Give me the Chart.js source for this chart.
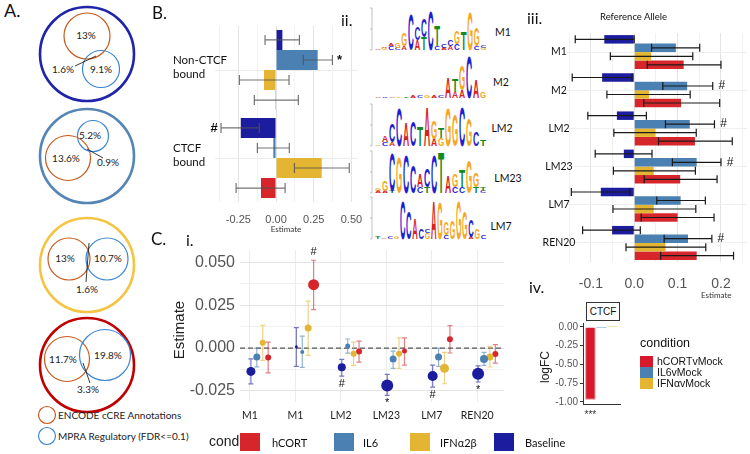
<!DOCTYPE html>
<html>
<head>
<meta charset="utf-8">
<title>Motif MPRA figure</title>
<script src="https://cdn.jsdelivr.net/npm/chart.js@4.4.0/dist/chart.umd.min.js"></script>
<style>
  body { margin: 0; background: #fff; font-family: Lato, 'Open Sans', sans-serif; }
  #fig { position: relative; width: 750px; height: 454px; overflow: hidden; }
  .abs { position: absolute; white-space: nowrap; line-height: 1; color: #111; }
  canvas { position: absolute; }
  .sq { position: absolute; }
</style>
</head>
<body>
<div id="fig">
  <svg id="venn" class="abs" style="left:0;top:0" width="210" height="454"></svg>
  <svg id="logos" class="abs" style="left:360px;top:0" width="170" height="245"></svg>

  <canvas id="ctcfChart" width="215" height="240" style="left:150px;top:0"></canvas>
  <canvas id="refChart" width="270" height="310" style="left:480px;top:0"></canvas>
  <canvas id="altChart" width="360" height="190" style="left:150px;top:240px"></canvas>
  <canvas id="fcChart" width="110" height="125" style="left:520px;top:300px"></canvas>

  <div class="abs" style="left:4px;top:1px;font-size:18px">A.</div>
  <div class="abs" style="left:152px;top:4px;font-size:17px">B.</div>
  <div class="abs" style="left:151px;top:230px;font-size:17px">C.</div>
  <div class="abs" style="left:186px;top:232px;font-size:16px">i.</div>
  <div class="abs" style="left:341px;top:12px;font-size:16px">ii.</div>
  <div class="abs" style="left:527px;top:10px;font-size:16px">iii.</div>
  <div class="abs" style="left:529px;top:279px;font-size:16px">iv.</div>

  <div class="abs" style="left:600px;top:12px;font-size:9.5px">Reference Allele</div>
  <div class="abs" style="left:286px;top:225px;font-size:8px;color:#333;transform:translateX(-50%)">Estimate</div>
  <div class="abs" style="left:701px;top:291px;font-size:8px;color:#333">Estimate</div>
  <div class="abs" style="left:178px;top:330px;font-size:15px;color:#222;font-family:'Liberation Sans';transform:translate(-50%,-50%) rotate(-90deg)">Estimate</div>
  <div class="abs" style="left:545px;top:367px;font-size:12px;color:#222;font-family:'Liberation Sans';transform:translate(-50%,-50%) rotate(-90deg)">logFC</div>

  <div class="abs" style="left:586px;top:302px;width:32px;height:17px;border:1.5px solid #333;font-size:10px;font-family:'Liberation Sans';text-align:center;line-height:17px;background:#fff">CTCF</div>

  <div id="fcLegend"></div>
  <div id="condLegend"></div>
</div>

<script>
// ---- colours ----
const condColors = ['#1c1c9e', '#4a80b2', '#e3b532', '#d6262b']; // Baseline, IL6, IFN, hCORT

// ---- A. venn percentages ----
const vennRing = ['#1f24a8', '#5585b5', '#f4c542', '#c00000'];
const vennEncode = ['13%', '13.6%', '13%', '11.7%'];
const vennMpra = ['9.1%', '5.2%', '10.7%', '19.8%'];
const vennBoth = ['1.6%', '0.9%', '1.6%', '3.3%'];

// ---- B.i CTCF bound / non-bound ----
const ctcfGroups = [['Non-CTCF', 'bound'], ['CTCF', 'bound']];
const ctcfBaseline = [0.042, -0.234];
const ctcfBaseLo = [-0.073, -0.365];
const ctcfBaseHi = [0.155, -0.111];
const ctcfIL6 = [0.276, -0.018];
const ctcfIL6Lo = [0.181, -0.124];
const ctcfIL6Hi = [0.374, 0.088];
const ctcfIFN = [-0.080, 0.303];
const ctcfIFNLo = [-0.243, 0.122];
const ctcfIFNHi = [0.086, 0.486];
const ctcfHCORT = [-0.005, -0.100];
const ctcfHCORTLo = [-0.144, -0.265];
const ctcfHCORTHi = [0.148, 0.060];
const ctcfBaseSig = ['', '#'];
const ctcfIL6Sig = ['*', ''];

// ---- B.ii logos (letter + bits, bottom to top) ----
const logoNames = ['M1', 'M2', 'LM2', 'LM23', 'LM7'];
const logoM1 = ['A.05', 'G.1 A.05', 'C.2 A.1', 'C.1 G.25', 'A.2 G.6', 'C1.7', 'A.5 C.6', 'T.6 C.9', 'C1.9', 'C.2 T1.0', 'A.1 C.2', 'A.2 C.3', 'C.3 G.6', 'T.9', 'G1.8', 'C.2 G.9', 'G.1 C.1'];
const logoM2 = ['A.05', 'C.05', 'A.05', 'G.05', 'T.05', 'A.1', 'C.1', 'G.15', 'A.1', 'C.15', 'A1.0', 'A.3 T.6', 'A.4 G1.2', 'C2.0', 'A.9', 'G.3'];
const logoLM2 = ['G.05', 'C.2 A.3', 'A.2 C.9', 'C1.8', 'A1.15', 'C1.2', 'T.95', 'A1.9', 'A.35 G.9', 'G.4 T.5', 'G1.8', 'G1.5', 'C1.9', 'G1.3', 'C.7', 'T.3'];
const logoLM23 = ['A.1 G.1', 'A.1 G.5', 'T.1 C1.8', 'G1.7', 'C1.8', 'C1.3', 'C.3 A.6', 'T.3 C.9', 'C1.8', 'T1.95', 'A.8', 'C.3 G.6', 'C.3 T.8', 'G1.6', 'T.3 G.7', 'C.1 T.2'];
const logoLM7 = ['T.1', 'A.05', 'C.1', 'G.15', 'C1.8', 'C1.3', 'A1.0', 'C.5', 'G.3 C.2', 'A1.8', 'G1.75', 'C.2 G.6', 'G.9', 'G1.8', 'G1.3', 'A.1 C.8', 'G.5', 'C.2'];

// ---- B.iii reference allele ----
const motifs = ['M1', 'M2', 'LM2', 'LM23', 'LM7', 'REN20'];
const refBaseline = [-0.069, -0.074, -0.040, -0.024, -0.077, -0.051];
const refBaseLo = [-0.136, -0.143, -0.107, -0.090, -0.145, -0.119];
const refBaseHi = [0.000, -0.005, 0.028, 0.041, -0.010, 0.014];
const refIL6 = [0.096, 0.122, 0.128, 0.144, 0.107, 0.124];
const refIL6Lo = [0.040, 0.066, 0.072, 0.088, 0.052, 0.069];
const refIL6Hi = [0.151, 0.181, 0.185, 0.200, 0.164, 0.179];
const refIFN = [0.039, 0.034, 0.049, 0.045, 0.045, 0.072];
const refIFNLo = [-0.055, -0.063, -0.047, -0.048, -0.049, -0.019];
const refIFNHi = [0.135, 0.129, 0.143, 0.141, 0.142, 0.165];
const refHCORT = [0.114, 0.108, 0.140, 0.106, 0.100, 0.144];
const refHCORTLo = [0.030, 0.022, 0.056, 0.023, 0.016, 0.061];
const refHCORTHi = [0.200, 0.197, 0.226, 0.191, 0.184, 0.229];
const refIL6Sig = ['', '#', '#', '#', '', '#'];

// ---- C.i alternate allele ----
const altMotifs = ['M1', 'M1', 'LM2', 'LM23', 'LM7', 'REN20'];
const altBaseline = [-0.0137, 0.0008, -0.0113, -0.0219, -0.0164, -0.0150];
const altBaseLo = [-0.0210, -0.0107, -0.0164, -0.0277, -0.0229, -0.0199];
const altBaseHi = [-0.0063, 0.0120, -0.0066, -0.0154, -0.0100, -0.0105];
const altBaseSize = [4.5, 1.5, 4, 6, 5, 6];
const altBaseSig = ['', '', '#', '*', '#', '*'];
const altIL6 = [-0.0053, -0.0023, 0.0012, -0.0064, -0.0053, -0.0064];
const altIL6Lo = [-0.0110, -0.0113, -0.0030, -0.0119, -0.0107, -0.0102];
const altIL6Hi = [0.0000, 0.0070, 0.0053, -0.0018, 0.0000, -0.0025];
const altIL6Size = [3.5, 2, 2.5, 3.5, 3.5, 4];
const altIFN = [0.0031, 0.0117, -0.0033, -0.0033, -0.0119, -0.0053];
const altIFNLo = [-0.0072, -0.0043, -0.0102, -0.0119, -0.0209, -0.0111];
const altIFNHi = [0.0133, 0.0275, 0.0035, 0.0059, -0.0025, 0.0008];
const altIFNSize = [3, 3.5, 3, 3, 4.5, 3.5];
const altHCORT = [-0.0055, 0.0371, -0.0020, -0.0018, 0.0051, -0.0035];
const altHCORTLo = [-0.0145, 0.0225, -0.0082, -0.0100, -0.0029, -0.0088];
const altHCORTHi = [0.0035, 0.0514, 0.0041, 0.0060, 0.0131, 0.0020];
const altHCORTSize = [3, 5.5, 3, 2.5, 3, 3];
const altHCORTSig = ['', '#', '', '', '', ''];

// ---- C.iv logFC ----
const fcLabels = ['CTCF'];
const fcHCORT = [-0.97];
const fcIL6 = [-0.012];
const fcIFN = [0.012];
const fcSig = ['***'];
const fcNames = ['hCORTvMock', 'IL6vMock', 'IFN\u03b1vMock'];

const condNames = ['hCORT', 'IL6', 'IFN\u03b12\u03b2', 'Baseline'];

// ================= drawing =================
Chart.defaults.animation = false;
Chart.defaults.responsive = false;
Chart.defaults.font.family = "'Liberation Sans', Arial, sans-serif";
Chart.defaults.plugins.legend.display = false;
Chart.defaults.plugins.tooltip.enabled = false;

const isStep = (v, s) => Math.abs(v / s - Math.round(v / s)) < 1e-6;
const alpha = (hex, a) => {
  const n = parseInt(hex.slice(1), 16);
  return `rgba(${n >> 16},${(n >> 8) & 255},${n & 255},${a})`;
};
// fixed axis box sizes, no extra room for overhanging tick labels
const fixH = h => s => { s.height = h; s.paddingLeft = 0; s.paddingRight = 0; };
const fixW = w => s => { s.width = w; s.paddingTop = 0; s.paddingBottom = 0; };

function drawErrorBars(chart, o) {
  const ctx = chart.ctx;
  const horiz = chart.options.indexAxis === 'y';
  const vScale = horiz ? chart.scales.x : chart.scales.y;
  chart.data.datasets.forEach((ds, di) => {
    if (!ds.errLo) return;
    chart.getDatasetMeta(di).data.forEach((el, i) => {
      const a = vScale.getPixelForValue(ds.errLo[i]);
      const b = vScale.getPixelForValue(ds.errHi[i]);
      const c = horiz ? el.y : el.x;
      ctx.save();
      ctx.strokeStyle = ds.errColor || o.color;
      ctx.lineWidth = o.width;
      ctx.beginPath();
      if (horiz) {
        ctx.moveTo(a, c); ctx.lineTo(b, c);
        ctx.moveTo(a, c - o.cap); ctx.lineTo(a, c + o.cap);
        ctx.moveTo(b, c - o.cap); ctx.lineTo(b, c + o.cap);
      } else {
        ctx.moveTo(c, a); ctx.lineTo(c, b);
        ctx.moveTo(c - o.cap, a); ctx.lineTo(c + o.cap, a);
        ctx.moveTo(c - o.cap, b); ctx.lineTo(c + o.cap, b);
      }
      ctx.stroke();
      const s = ds.sig && ds.sig[i];
      if (s) {
        ctx.fillStyle = '#111';
        ctx.font = o.sigFont;
        ctx.textAlign = 'center';
        ctx.textBaseline = 'middle';
        const lo = ds.sigAt === 'lo';
        const end = lo ? a : b;
        if (horiz) ctx.fillText(s, end + (lo ? -o.sigGap : o.sigGap), c);
        else ctx.fillText(s, c, end + (lo ? o.sigGap : -o.sigGap));
      }
      ctx.restore();
    });
  });
}

const errorBars = {
  id: 'errorBars',
  beforeDatasetsDraw(chart, args, o) { if (o.under) drawErrorBars(chart, o); },
  afterDatasetsDraw(chart, args, o) { if (!o.under) drawErrorBars(chart, o); }
};

// category names drawn by hand so they are not clipped to the axis box
const catLabels = {
  id: 'catLabels',
  afterDraw(chart, args, o) {
    const ctx = chart.ctx, ys = chart.scales.y;
    ctx.save();
    ctx.font = o.font;
    ctx.fillStyle = '#111';
    ctx.textAlign = o.align;
    ctx.textBaseline = 'middle';
    chart.data.labels.forEach((lab, i) => {
      const y = ys.getPixelForValue(i) + o.dy;
      const lines = Array.isArray(lab) ? lab : [lab];
      lines.forEach((t, k) => ctx.fillText(t, o.x, y + (k - (lines.length - 1) / 2) * o.lineH));
    });
    ctx.restore();
  }
};

const zeroLine = {
  id: 'zeroLine',
  beforeDatasetsDraw(chart) {
    const { ctx, chartArea } = chart;
    const y = chart.scales.y.getPixelForValue(0);
    ctx.save();
    ctx.strokeStyle = '#555';
    ctx.lineWidth = 1.3;
    ctx.setLineDash([5, 3]);
    ctx.beginPath();
    ctx.moveTo(chartArea.left, y);
    ctx.lineTo(chartArea.right, y);
    ctx.stroke();
    ctx.restore();
  }
};

const barNote = {
  id: 'barNote',
  afterDraw(chart, args, o) {
    const el = chart.getDatasetMeta(0).data[0];
    const ctx = chart.ctx;
    ctx.save();
    ctx.fillStyle = '#333';
    ctx.font = "10px 'Liberation Sans'";
    ctx.textAlign = 'center';
    ctx.textBaseline = 'middle';
    ctx.fillText(o.text, el.x, chart.chartArea.bottom + 11);
    ctx.restore();
  }
};

const gridColor = step => c => (c.tick && isStep(c.tick.value, step)) ? '#e4e4e4' : '#f1f1f1';

// ---- B.i ----
new Chart(document.getElementById('ctcfChart'), {
  type: 'bar',
  data: {
    labels: ctcfGroups,
    datasets: [
      { data: ctcfBaseline, backgroundColor: condColors[0], errLo: ctcfBaseLo, errHi: ctcfBaseHi, sig: ctcfBaseSig, sigAt: 'lo' },
      { data: ctcfIL6, backgroundColor: condColors[1], errLo: ctcfIL6Lo, errHi: ctcfIL6Hi, sig: ctcfIL6Sig, sigAt: 'hi' },
      { data: ctcfIFN, backgroundColor: condColors[2], errLo: ctcfIFNLo, errHi: ctcfIFNHi },
      { data: ctcfHCORT, backgroundColor: condColors[3], errLo: ctcfHCORTLo, errHi: ctcfHCORTHi }
    ]
  },
  options: {
    indexAxis: 'y',
    layout: { padding: { left: 23, top: 26, right: 8, bottom: 0 } },
    datasets: { bar: { categoryPercentage: 0.91, barPercentage: 1 } },
    scales: {
      x: {
        min: -0.405, max: 0.537,
        ticks: { stepSize: 0.125, includeBounds: false, autoSkip: false, maxRotation: 0, padding: 11, color: '#555', font: { size: 11 },
          callback: v => isStep(v, 0.25) ? (Math.abs(v) < 1e-9 ? '0.00' : v.toFixed(2)) : '' },
        grid: { color: gridColor(0.25), drawTicks: false },
        border: { display: false },
        afterFit: fixH(38)
      },
      y: {
        ticks: { display: false },
        grid: { offset: false, color: '#ececec', drawTicks: false },
        border: { display: false },
        afterFit: fixW(42)
      }
    },
    plugins: {
      errorBars: { color: 'rgba(80,80,80,0.8)', width: 1.2, cap: 5, sigGap: 7, sigFont: "bold 13px 'Liberation Sans'" },
      catLabels: { x: 23, align: 'left', dy: -3, lineH: 14, font: "11.5px Lato" }
    }
  },
  plugins: [errorBars, catLabels]
});

// ---- B.iii ----
new Chart(document.getElementById('refChart'), {
  type: 'bar',
  data: {
    labels: motifs,
    datasets: [
      { data: refBaseline, backgroundColor: condColors[0], errLo: refBaseLo, errHi: refBaseHi },
      { data: refIL6, backgroundColor: condColors[1], errLo: refIL6Lo, errHi: refIL6Hi, sig: refIL6Sig, sigAt: 'hi' },
      { data: refIFN, backgroundColor: condColors[2], errLo: refIFNLo, errHi: refIFNHi },
      { data: refHCORT, backgroundColor: condColors[3], errLo: refHCORTLo, errHi: refHCORTHi }
    ]
  },
  options: {
    indexAxis: 'y',
    layout: { padding: { left: 0, top: 33, right: 3, bottom: 0 } },
    datasets: { bar: { categoryPercentage: 0.89, barPercentage: 1 } },
    scales: {
      x: {
        min: -0.155, max: 0.26,
        ticks: { stepSize: 0.05, includeBounds: false, autoSkip: false, maxRotation: 0, padding: 14, color: '#555', font: { size: 14 },
          callback: v => isStep(v, 0.1) ? (Math.abs(v) < 1e-9 ? '0.0' : v.toFixed(1)) : '' },
        grid: { color: gridColor(0.1), drawTicks: false },
        border: { display: false },
        afterFit: fixH(48)
      },
      y: {
        ticks: { display: false },
        grid: { offset: false, color: '#efefef', drawTicks: false },
        border: { display: false },
        afterFit: fixW(87)
      }
    },
    plugins: {
      errorBars: { color: '#1a1a1a', width: 1.2, cap: 4, sigGap: 9, sigFont: "12px 'Liberation Sans'" },
      catLabels: { x: 79, align: 'center', dy: 0, lineH: 12, font: "10.5px Lato" }
    }
  },
  plugins: [errorBars, catLabels]
});

// ---- C.i ----
const dodge = [0.02, 0.15, 0.28, 0.40];
const altPts = (vals, k) => vals.map((v, i) => ({ x: i + dodge[k], y: v }));
new Chart(document.getElementById('altChart'), {
  type: 'scatter',
  data: {
    datasets: [
      { data: altPts(altBaseline, 0), pointRadius: altBaseSize, backgroundColor: condColors[0], errLo: altBaseLo, errHi: altBaseHi, errColor: alpha(condColors[0], 0.6), sig: altBaseSig, sigAt: 'lo' },
      { data: altPts(altIL6, 1), pointRadius: altIL6Size, backgroundColor: condColors[1], errLo: altIL6Lo, errHi: altIL6Hi, errColor: alpha(condColors[1], 0.6) },
      { data: altPts(altIFN, 2), pointRadius: altIFNSize, backgroundColor: condColors[2], errLo: altIFNLo, errHi: altIFNHi, errColor: alpha(condColors[2], 0.6) },
      { data: altPts(altHCORT, 3), pointRadius: altHCORTSize, backgroundColor: condColors[3], errLo: altHCORTLo, errHi: altHCORTHi, errColor: alpha(condColors[3], 0.6), sig: altHCORTSig, sigAt: 'hi' }
    ]
  },
  options: {
    layout: { padding: { left: 0, top: 10, right: 5, bottom: 0 } },
    elements: { point: { borderWidth: 0 } },
    scales: {
      x: {
        type: 'linear', min: -0.22, max: 5.59,
        ticks: { stepSize: 1, includeBounds: false, autoSkip: false, maxRotation: 0, padding: 7, color: '#222', font: { family: 'Lato', size: 10.5 },
          callback: v => altMotifs[v] || '' },
        grid: { color: '#ececec', drawTicks: false },
        border: { display: false },
        afterFit: fixH(28)
      },
      y: {
        min: -0.0316, max: 0.0574,
        ticks: { stepSize: 0.0125, includeBounds: false, autoSkip: false, padding: 5, color: '#555', font: { size: 16 },
          callback: v => isStep(v, 0.025) ? (Math.abs(v) < 1e-9 ? '0.000' : v.toFixed(3)) : '' },
        grid: { color: gridColor(0.025), drawTicks: false },
        border: { display: false },
        afterFit: fixW(90)
      }
    },
    plugins: { errorBars: { under: true, width: 1.2, cap: 2.5, sigGap: 8, sigFont: "11px 'Liberation Sans'" } }
  },
  plugins: [zeroLine, errorBars]
});

// ---- C.iv ----
new Chart(document.getElementById('fcChart'), {
  type: 'bar',
  data: {
    labels: fcLabels,
    datasets: [
      { data: fcHCORT, backgroundColor: '#d8182b', borderColor: '#ee8a92', borderWidth: 1 },
      { data: fcIL6, backgroundColor: condColors[1] },
      { data: fcIFN, backgroundColor: condColors[2] }
    ]
  },
  options: {
    layout: { padding: { left: 0, top: 23, right: 10, bottom: 0 } },
    datasets: { bar: { categoryPercentage: 0.9, barPercentage: 0.95 } },
    scales: {
      x: {
        ticks: { display: false },
        grid: { display: false },
        border: { display: true, color: '#333', width: 1 },
        afterFit: fixH(21)
      },
      y: {
        min: -1.027, max: 0.053,
        ticks: { stepSize: 0.25, includeBounds: false, autoSkip: false, padding: 2, color: '#555', font: { size: 10 },
          callback: v => (Math.abs(v) < 1e-9 ? '0.00' : v.toFixed(2)) },
        grid: { drawOnChartArea: false, tickLength: 3, color: '#333' },
        border: { display: true, color: '#333', width: 1 },
        afterFit: fixW(63)
      }
    },
    plugins: { barNote: { text: fcSig[0] } }
  },
  plugins: [barNote]
});

// ---- legends ----
const fcLeg = document.getElementById('fcLegend');
fcLeg.innerHTML = `<div class="abs" style="left:640px;top:337px;font-size:12.5px;font-family:'Liberation Sans'">condition</div>` +
  fcNames.map((n, i) =>
    `<div class="sq" style="left:640px;top:${356 + i * 11}px;width:13px;height:11px;background:${['#d8182b', condColors[1], condColors[2]][i]}"></div>` +
    `<div class="abs" style="left:657px;top:${356 + i * 11}px;font-size:10.5px;font-family:'Liberation Sans'">${n}</div>`).join('');

const legendOrder = [3, 1, 2, 0];
const legSq = [240, 334, 410, 494];
const legTx = [272, 363, 440, 525];
const condLeg = document.getElementById('condLegend');
condLeg.innerHTML = `<div class="abs" style="left:209px;top:434px;font-size:14px;font-family:'Liberation Sans';color:#222">cond</div>` +
  condNames.map((n, i) =>
    `<div class="sq" style="left:${legSq[i]}px;top:433px;width:20px;height:18px;background:${condColors[legendOrder[i]]}"></div>` +
    `<div class="abs" style="left:${legTx[i]}px;top:437px;font-size:11px">${n}</div>`).join('');

// ---- A. venn (svg) ----
const NS = 'http://www.w3.org/2000/svg';
function mk(parent, tag, attrs, text) {
  const e = document.createElementNS(NS, tag);
  for (const k in attrs) e.setAttribute(k, attrs[k]);
  if (text) e.textContent = text;
  parent.appendChild(e);
  return e;
}
const venn = document.getElementById('venn');
const encColor = '#c9581c', mpraColor = '#3b86d2';
const vennCx = 87, vennCy = [54, 156, 265, 365], vennR = 47;
const encCircle = [[0, -18, 23], [-19, 2, 22.5], [-18, -6, 21], [-20, -6, 22.5]];
const mpraCircle = [[14, 15, 18.5], [6, -20, 15.5], [20, -6, 21], [18, -10, 25.5]];
const encText = [[-1, -19], [-21, 2], [-22, -7], [-24, -6]];
const mpraText = [[14, 15], [3, -21], [21, -7], [21, -10]];
const bothText = [[-24, 15], [21, 6], [0, 24], [1, 24]];
const bothLine = [[-12, 12, 9, 2], [0, -7, 16, 2], [2, -22, -1, 17], [-4, -2, 3, 18]];
vennRing.forEach((col, k) => {
  const cy = vennCy[k];
  mk(venn, 'circle', { cx: vennCx, cy, r: vennR, fill: 'none', stroke: col, 'stroke-width': 2.6 });
  const e = encCircle[k], m = mpraCircle[k];
  mk(venn, 'circle', { cx: vennCx + e[0], cy: cy + e[1], r: e[2], fill: 'none', stroke: encColor, 'stroke-width': 1.2 });
  mk(venn, 'circle', { cx: vennCx + m[0], cy: cy + m[1], r: m[2], fill: 'none', stroke: mpraColor, 'stroke-width': 1.2 });
  const l = bothLine[k];
  mk(venn, 'line', { x1: vennCx + l[0], y1: cy + l[1], x2: vennCx + l[2], y2: cy + l[3], stroke: '#222', 'stroke-width': 0.9 });
  const t = { 'font-family': 'Lato', 'font-size': 10, fill: '#222', 'text-anchor': 'middle', 'dominant-baseline': 'central' };
  mk(venn, 'text', Object.assign({ x: vennCx + encText[k][0], y: cy + encText[k][1] }, t), vennEncode[k]);
  mk(venn, 'text', Object.assign({ x: vennCx + mpraText[k][0], y: cy + mpraText[k][1] }, t), vennMpra[k]);
  mk(venn, 'text', Object.assign({ x: vennCx + bothText[k][0], y: cy + bothText[k][1] }, t), vennBoth[k]);
});
[['ENCODE cCRE Annotations', encColor, 415], ['MPRA Regulatory (FDR<=0.1)', mpraColor, 436]].forEach(([txt, col, y]) => {
  mk(venn, 'circle', { cx: 47, cy: y, r: 8.5, fill: 'none', stroke: col, 'stroke-width': 1.2 });
  mk(venn, 'text', { x: 58, y, 'font-family': 'Lato', 'font-size': 10, fill: '#222', 'dominant-baseline': 'central' }, txt);
});

// ---- B.ii logos (svg) ----
const logoSvg = document.getElementById('logos');
const letterColor = { A: '#d9221c', C: '#1f1fd0', G: '#f5a623', T: '#16891f' };
const letterAdv = { A: 0.722, C: 0.722, G: 0.778, T: 0.611 };
const logoCols = [logoM1, logoM2, logoLM2, logoLM23, logoLM7];
const logoBase = [50, 98, 146, 193, 239];
const logoLabelPos = [[143, 32], [141, 82], [142, 128], [148, 178], [141, 226]];
const pxPerBit = 21, logoX0 = 15, logoW = 112;
logoCols.forEach((cols, k) => {
  const base = logoBase[k];
  if (k !== 1) {
    mk(logoSvg, 'line', { x1: 12, y1: base - 2 * pxPerBit, x2: 12, y2: base, stroke: '#999', 'stroke-width': 0.6 });
    [0, 1, 2].forEach(b => mk(logoSvg, 'line', { x1: 10, y1: base - b * pxPerBit, x2: 12, y2: base - b * pxPerBit, stroke: '#999', 'stroke-width': 0.6 }));
  }
  const w = logoW / cols.length;
  cols.forEach((col, ci) => {
    let y = base;
    col.split(' ').forEach(tok => {
      const L = tok[0], h = parseFloat(tok.slice(1)) * pxPerBit;
      const sx = (w * 0.88) / (letterAdv[L] * 10), sy = h / 7.16;
      mk(logoSvg, 'text', { x: 0, y: 0, 'font-family': 'Liberation Sans', 'font-weight': 'bold', 'font-size': 10, fill: letterColor[L],
        transform: `translate(${(logoX0 + ci * w).toFixed(2)},${y.toFixed(2)}) scale(${sx.toFixed(3)},${sy.toFixed(3)})` }, L);
      y -= h;
    });
  });
  mk(logoSvg, 'text', { x: logoLabelPos[k][0], y: logoLabelPos[k][1], 'font-family': 'Lato', 'font-size': 10.5, fill: '#111', 'text-anchor': 'middle', 'dominant-baseline': 'central' }, logoNames[k]);
});
</script>
</body>
</html>
